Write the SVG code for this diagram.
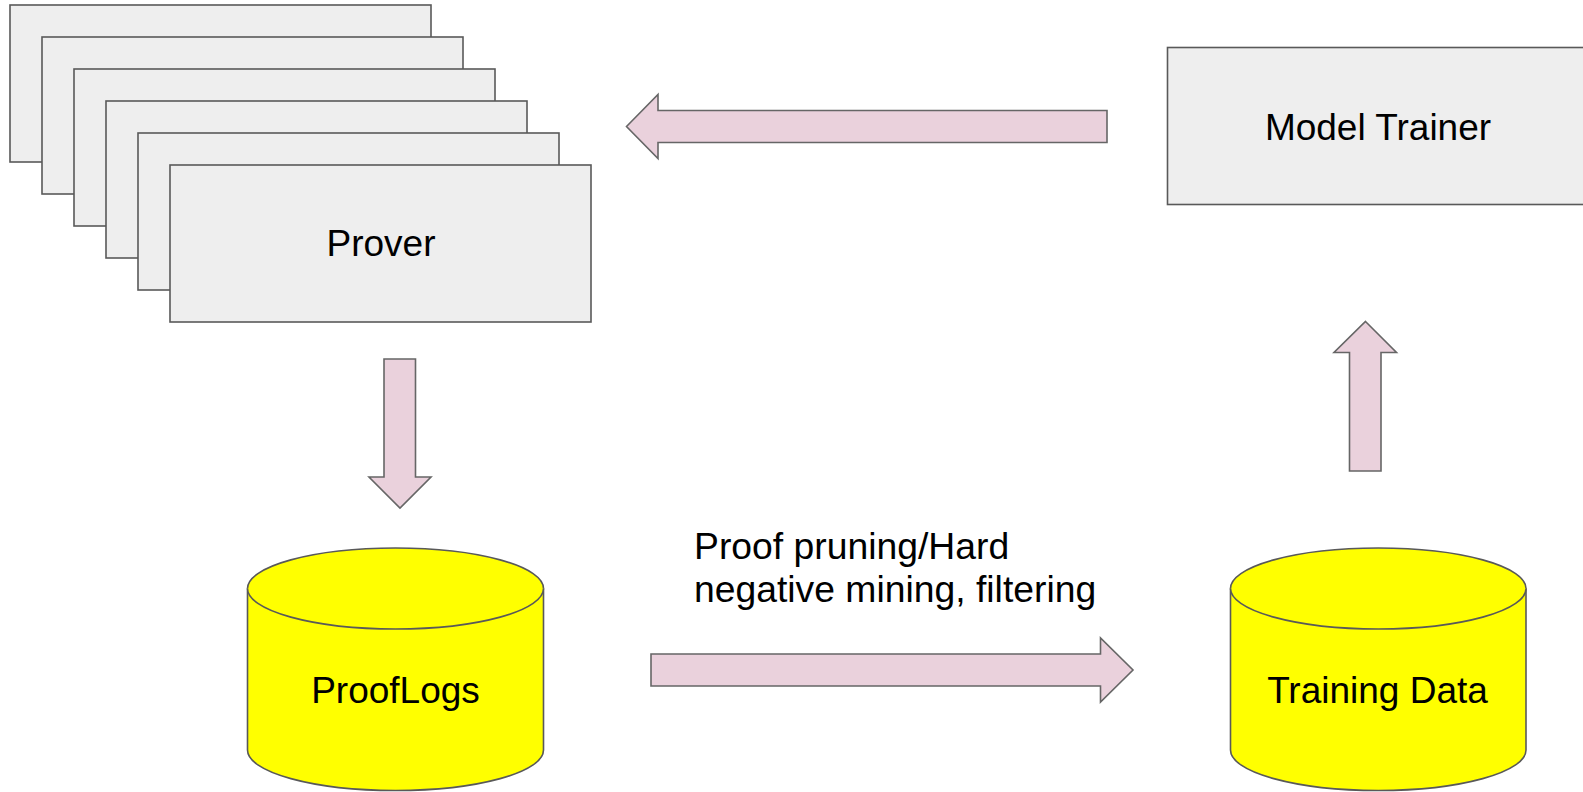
<svg xmlns="http://www.w3.org/2000/svg" width="1583" height="792" viewBox="0 0 1583 792">
  <style>
    .box { fill: #eeeeee; stroke: #595959; stroke-width: 1.6; }
    .db { fill: #ffff00; stroke: #595959; stroke-width: 1.6; }
    .flow { fill: #ead1dc; stroke: #666666; stroke-width: 1.6; stroke-linejoin: miter; }
    .label { font-family: "Liberation Sans", Arial, sans-serif; font-size: 37px; fill: #000000; }
    .mid { text-anchor: middle; }
  </style>
  <rect width="1583" height="792" fill="#ffffff"/>

  <!-- stack of prover instances, back to front -->
  <g id="prover">
    <rect class="box" x="10" y="5" width="421" height="157"/>
    <rect class="box" x="42" y="37" width="421" height="157"/>
    <rect class="box" x="74" y="69" width="421" height="157"/>
    <rect class="box" x="106" y="101" width="421" height="157"/>
    <rect class="box" x="138" y="133" width="421" height="157"/>
    <rect class="box" x="170" y="165" width="421" height="157"/>
    <text class="label mid" x="381" y="256">Prover</text>
  </g>

  <g id="model-trainer">
    <rect class="box" x="1167.5" y="47.5" width="421" height="157"/>
    <text class="label mid" x="1378" y="140">Model Trainer</text>
  </g>

  <g id="prooflogs">
    <path class="db" d="M247.5,588.5 L247.5,750 A148,40.5 0 0 0 543.5,750 L543.5,588.5 A148,40.5 0 0 0 247.5,588.5 Z"/>
    <path class="db" fill="none" d="M247.5,588.5 A148,40.5 0 0 0 543.5,588.5"/>
    <text class="label mid" x="395.5" y="703">ProofLogs</text>
  </g>

  <g id="training-data">
    <path class="db" d="M1230.5,588.5 L1230.5,750 A147.75,40.5 0 0 0 1526,750 L1526,588.5 A147.75,40.5 0 0 0 1230.5,588.5 Z"/>
    <path class="db" fill="none" d="M1230.5,588.5 A147.75,40.5 0 0 0 1526,588.5"/>
    <text class="label mid" x="1377.5" y="703">Training Data</text>
  </g>

  <g id="processing-label">
    <text class="label" x="694" y="559" style="font-size:37.3px">Proof pruning/Hard</text>
    <text class="label" x="694" y="601.5" style="font-size:37.3px">negative mining, filtering</text>
  </g>

  <!-- block arrows between stages -->
  <g id="connectors">
    <polygon class="flow" points="626.5,126.5 658,94.5 658,110.5 1107,110.5 1107,142.5 658,142.5 658,158.5"/>
    <polygon class="flow" points="384,359 415.5,359 415.5,477 431,477 400,508 369,477 384,477"/>
    <polygon class="flow" points="651,654 1100.5,654 1100.5,638 1133,670 1100.5,702 1100.5,686 651,686"/>
    <polygon class="flow" points="1365.5,321.5 1396.5,352.5 1381,352.5 1381,471 1349.5,471 1349.5,352.5 1334,352.5"/>
  </g>
</svg>
